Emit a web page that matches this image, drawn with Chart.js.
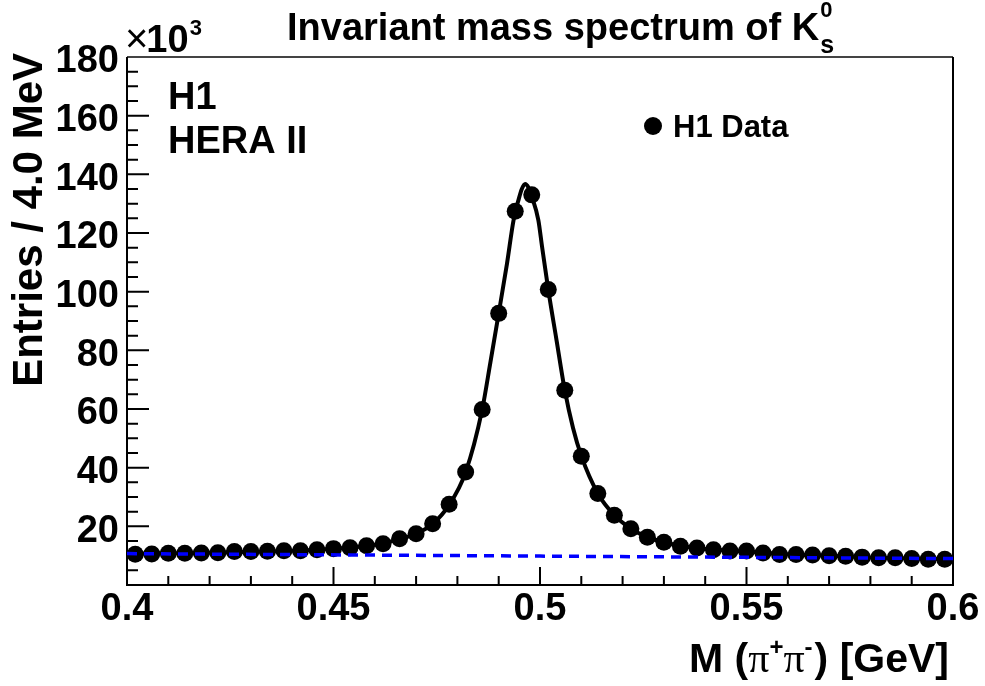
<!DOCTYPE html>
<html>
<head>
<meta charset="utf-8">
<script src="https://cdn.jsdelivr.net/npm/chart.js@4.4.0/dist/chart.umd.min.js"></script>
<style>
  html, body { margin: 0; padding: 0; background: #fff; }
  #wrap { width: 985px; height: 686px; }
</style>
</head>
<body>
<div id="wrap"><canvas id="c" width="985" height="686"></canvas></div>
<script>
// pi+ pi- invariant mass, 4 MeV bins (bin centres in GeV)
const binCenters = [
  0.402, 0.406, 0.410, 0.414, 0.418, 0.422, 0.426, 0.430, 0.434, 0.438,
  0.442, 0.446, 0.450, 0.454, 0.458, 0.462, 0.466, 0.470, 0.474, 0.478,
  0.482, 0.486, 0.490, 0.494, 0.498, 0.502, 0.506, 0.510, 0.514, 0.518,
  0.522, 0.526, 0.530, 0.534, 0.538, 0.542, 0.546, 0.550, 0.554, 0.558,
  0.562, 0.566, 0.570, 0.574, 0.578, 0.582, 0.586, 0.590, 0.594, 0.598
];
// entries per bin, in units of 10^3
const entries = [
  10.5, 10.6, 10.8, 10.8, 10.9, 11.0, 11.4, 11.4, 11.5, 11.7,
  11.7, 12.0, 12.4, 12.7, 13.4, 14.1, 15.8, 17.5, 20.9, 27.5,
  38.5, 59.8, 92.6, 127.4, 133.0, 100.7, 66.4, 43.9, 31.2, 23.8,
  19.2, 16.3, 14.6, 13.2, 12.6, 12.0, 11.6, 11.6, 10.9, 10.4,
  10.4, 10.2, 10.0, 9.8, 9.5, 9.3, 9.3, 9.0, 8.8, 8.8
];

// signal + background fit curve
const fitMass = [
  0.400, 0.410, 0.420, 0.430, 0.440, 0.450, 0.455, 0.460, 0.465, 0.470,
  0.474, 0.478, 0.482, 0.486, 0.488, 0.490, 0.492, 0.4936, 0.4948, 0.4956,
  0.4964, 0.4972, 0.498, 0.4996, 0.5005, 0.502, 0.504, 0.506, 0.508, 0.510,
  0.514, 0.518, 0.522, 0.526, 0.530, 0.535, 0.540, 0.550, 0.560, 0.570,
  0.580, 0.590, 0.600
];
const fitEntries = [
  10.6, 10.8, 11.0, 11.3, 11.7, 12.4, 12.9, 13.7, 15.2, 17.5,
  20.8, 27.3, 38.5, 59.8, 76.0, 92.6, 109.5, 124.4, 131.3, 135.0,
  136.7, 135.5, 132.5, 124.4, 115.3, 100.7, 83.5, 66.4, 53.5, 44.0,
  31.2, 23.8, 19.2, 16.3, 14.6, 13.1, 12.3, 11.4, 10.5, 10.0,
  9.4, 9.0, 8.8
];

// background component of the fit
const bkgMass = [0.400, 0.500, 0.600];
const bkgEntries = [10.7, 9.85, 9.0];

const xTickValues = [0.4, 0.45, 0.5, 0.55, 0.6];
const xTickLabels = ['0.4', '0.45', '0.5', '0.55', '0.6'];
const yTickValues = [20, 40, 60, 80, 100, 120, 140, 160, 180];
const yTickLabels = ['20', '40', '60', '80', '100', '120', '140', '160', '180'];

const FONT = "'Liberation Sans', Arial, Helvetica, sans-serif";
const SERIF = "'Liberation Serif', 'Times New Roman', serif";

function pairs(xs, ys) { return xs.map((v, i) => ({ x: v, y: ys[i] })); }

// draws a run of text pieces left to right, returns the end x
function drawRun(ctx, x, y, parts) {
  let cx = x;
  for (const p of parts) {
    ctx.font = p.font;
    ctx.fillText(p.text, cx, y + (p.dy || 0));
    cx += ctx.measureText(p.text).width + (p.gap || 0);
  }
  return cx;
}
function runWidth(ctx, parts) {
  let w = 0;
  for (const p of parts) { ctx.font = p.font; w += ctx.measureText(p.text).width + (p.gap || 0); }
  return w;
}

const decorations = {
  id: 'decorations',
  beforeDatasetsDraw(chart) {
    const { ctx, chartArea: a, scales: { x, y } } = chart;
    ctx.save();
    ctx.strokeStyle = '#000';
    ctx.lineWidth = 2;
    ctx.beginPath();
    // x ticks: major every 0.05, minor every 0.01, drawn inward
    for (let i = 0; i <= 20; i++) {
      const px = x.getPixelForValue(0.4 + i * 0.01);
      const len = (i % 5 === 0) ? 18 : 9;
      ctx.moveTo(px, a.bottom);
      ctx.lineTo(px, a.bottom - len);
    }
    // y ticks: major every 20, minor every 5
    for (let v = 0; v <= 180; v += 5) {
      const py = y.getPixelForValue(v);
      const len = (v % 20 === 0) ? 22 : 11;
      ctx.moveTo(a.left, py);
      ctx.lineTo(a.left + len, py);
    }
    ctx.stroke();
    // frame
    ctx.strokeStyle = '#444';
    ctx.beginPath();
    ctx.moveTo(a.left, a.top); ctx.lineTo(a.right, a.top);
    ctx.stroke();
    ctx.strokeStyle = '#000';
    ctx.beginPath();
    ctx.moveTo(a.right, a.top); ctx.lineTo(a.right, a.bottom);
    ctx.lineTo(a.left, a.bottom); ctx.lineTo(a.left, a.top);
    ctx.stroke();
    ctx.restore();
  },
  afterDraw(chart) {
    const { ctx } = chart;
    ctx.save();
    ctx.fillStyle = '#000';
    ctx.textAlign = 'left';
    ctx.textBaseline = 'alphabetic';

    // title with K0s
    const tEnd = drawRun(ctx, 287, 40, [{ text: 'Invariant mass spectrum of K', font: 'bold 38px ' + FONT }]);
    ctx.font = 'bold 22px ' + FONT;
    ctx.fillText('0', tEnd + 1, 17);
    ctx.font = 'bold 25px ' + FONT;
    ctx.fillText('s', tEnd + 1, 53);

    // exponent of the y axis
    ctx.font = '40px ' + FONT;
    ctx.fillText('\u00d7', 125, 52);
    const xw = ctx.measureText('\u00d7').width;
    ctx.font = 'bold 38px ' + FONT;
    ctx.fillText('10', 125 + xw - 2, 52);
    const tw = ctx.measureText('10').width;
    ctx.font = 'bold 22px ' + FONT;
    ctx.fillText('3', 125 + xw - 2 + tw + 1, 35);

    // experiment labels
    ctx.font = 'bold 38px ' + FONT;
    ctx.fillText('H1', 168, 109);
    ctx.fillText('HERA II', 168, 153);

    // legend
    ctx.beginPath();
    ctx.arc(653, 126, 9, 0, Math.PI * 2);
    ctx.fill();
    ctx.font = 'bold 31px ' + FONT;
    ctx.fillText('H1 Data', 673, 137);

    // x axis title, right aligned
    const bold = 'bold 41px ' + FONT;
    const sup = 'bold 24px ' + FONT;
    const greek = '42px ' + SERIF;
    const xParts = [
      { text: 'M (', font: bold },
      { text: '\u03c0', font: greek },
      { text: '+', font: sup, dy: -17 },
      { text: '\u03c0', font: greek },
      { text: '-', font: sup, dy: -17, gap: 2 },
      { text: ') [GeV]', font: bold }
    ];
    const w = runWidth(ctx, xParts);
    drawRun(ctx, 949 - w, 672, xParts);

    // y axis title, rotated, aligned to the top of the frame
    ctx.translate(42, 53);
    ctx.rotate(-Math.PI / 2);
    ctx.font = 'bold 42px ' + FONT;
    ctx.textAlign = 'right';
    ctx.fillText('Entries / 4.0 MeV', 0, 0);
    ctx.restore();
  }
};

new Chart(document.getElementById('c'), {
  type: 'scatter',
  data: {
    datasets: [
      {
        type: 'line',
        label: 'background',
        data: pairs(bkgMass, bkgEntries),
        borderColor: '#0000ff',
        borderWidth: 3.5,
        borderDash: [10, 7],
        pointRadius: 0,
        fill: false,
        order: 0
      },
      {
        type: 'line',
        label: 'fit',
        data: pairs(fitMass, fitEntries),
        borderColor: '#000',
        borderWidth: 4,
        pointRadius: 0,
        cubicInterpolationMode: 'monotone',
        fill: false,
        order: 1
      },
      {
        label: 'H1 Data',
        data: pairs(binCenters, entries),
        backgroundColor: '#000',
        borderWidth: 0,
        pointRadius: 8.5,
        clip: false,
        order: 2
      }
    ]
  },
  options: {
    responsive: false,
    animation: false,
    devicePixelRatio: 1,
    layout: { padding: { left: 0, right: 32, top: 57, bottom: 0 } },
    plugins: { legend: { display: false }, tooltip: { enabled: false }, title: { display: false } },
    scales: {
      x: {
        type: 'linear',
        min: 0.4, max: 0.6,
        border: { display: false },
        grid: { display: false, drawTicks: false },
        afterBuildTicks(s) { s.ticks = xTickValues.map(v => ({ value: v })); },
        afterFit(s) { s.height = 101; },
        ticks: {
          autoSkip: false, maxRotation: 0, padding: 2,
          color: '#000',
          font: { family: FONT, size: 38, weight: 'bold' },
          callback: (v) => xTickLabels[xTickValues.indexOf(v)] ?? ''
        }
      },
      y: {
        type: 'linear',
        min: 0, max: 180,
        border: { display: false },
        grid: { display: false, drawTicks: false },
        afterBuildTicks(s) { s.ticks = yTickValues.map(v => ({ value: v })); },
        afterFit(s) { s.width = 127; },
        ticks: {
          autoSkip: false, padding: 8, labelOffset: 5,
          color: '#000',
          font: { family: FONT, size: 38, weight: 'bold' },
          callback: (v) => yTickLabels[yTickValues.indexOf(v)] ?? ''
        }
      }
    }
  },
  plugins: [decorations]
});
</script>
</body>
</html>
